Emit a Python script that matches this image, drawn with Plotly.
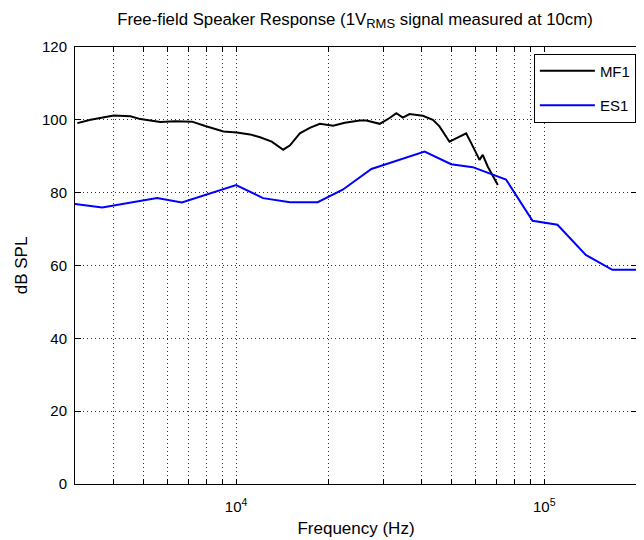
import plotly.graph_objects as go

# MF1 (black) measured response
mf1_freq = [3052, 3370, 4010, 4540, 4890, 5675, 6350, 7195, 7940, 9100, 10050, 11100,
            11960, 13050, 14220, 14960, 16100, 17340, 18700, 20650, 22530, 25190, 26480,
            29250, 31490, 33110, 34760, 36540, 40370, 43510, 45710, 49260, 51160, 55800,
            57940, 61660, 63140, 65540, 70700]
mf1_db = [99.1, 100.0, 101.2, 101.0, 100.2, 99.4, 99.6, 99.5, 98.3, 96.8, 96.5, 96.0,
          95.2, 94.0, 91.8, 93.0, 96.3, 97.8, 98.9, 98.4, 99.2, 99.8, 99.8,
          98.9, 100.5, 101.8, 100.6, 101.6, 101.1, 100.0, 98.2, 94.0, 94.7, 96.3,
          93.6, 89.0, 90.4, 87.2, 82.1]

# ES1 (blue) measured response
es1_freq = [3000, 3677, 5538, 6668, 10000, 12230, 14960, 18400, 22180, 27480, 40900,
            49890, 58610, 68060, 75170, 91630, 110400, 136400, 166300, 200000]
es1_db = [76.9, 75.9, 78.5, 77.3, 82.1, 78.5, 77.4, 77.4, 80.8, 86.5, 91.3,
          87.8, 87.0, 84.9, 83.6, 72.3, 71.2, 62.9, 58.8, 58.8]

x_tickvals = [m * 10 ** e for e in (3, 4, 5) for m in range(1, 10) if 3000 <= m * 10 ** e <= 200000]
x_ticktext = {10000: "10<sup>4</sup>", 100000: "10<sup>5</sup>"}
y_tickvals = [0, 20, 40, 60, 80, 100, 120]

fig = go.Figure()
fig.add_trace(go.Scatter(x=mf1_freq, y=mf1_db, mode="lines", name="MF1", legendgroup="a",
                         line=dict(color="black", width=2)))
fig.add_trace(go.Scatter(x=es1_freq, y=es1_db, mode="lines", name="ES1", legendgroup="b",
                         line=dict(color="#0000ff", width=2)))

# figure sits 8px inside the page (body margin), so it is drawn 8px smaller
W, H = 636, 532
font_family = "Liberation Sans, Arial, sans-serif"
fig.update_layout(
    width=W, height=H,
    margin=dict(l=67, r=7, t=39, b=56, autoexpand=False),
    paper_bgcolor="white", plot_bgcolor="white",
    font=dict(family=font_family, size=14, color="black"),
    title=dict(text="Free-field Speaker Response (1V<sub><span style='font-size:13px'>RMS</span></sub> signal measured at 10cm)",
               x=347 / W, xanchor="center", y=1 - 11 / H, yanchor="middle",
               font=dict(size=16.8)),
    showlegend=True,
    legend=dict(x=0.998, y=0.985, xanchor="right", yanchor="top",
                bordercolor="black", borderwidth=1, bgcolor="white",
                font=dict(size=15), itemwidth=55, traceorder="grouped", tracegroupgap=12),
    xaxis=dict(type="log", range=[3.4771, 5.30103], automargin=False,
               tickvals=x_tickvals,
               ticktext=[x_ticktext.get(v, "") for v in x_tickvals],
               ticks="inside", ticklen=5, tickcolor="black", ticklabelstandoff=9,
               showline=True, linecolor="black", linewidth=1, mirror="ticks",
               showgrid=True, gridcolor="#333", gridwidth=1, griddash="1px,3px",
               zeroline=False,
               title=dict(text="Frequency (Hz)", standoff=8),
               tickfont=dict(size=15)),
    yaxis=dict(range=[0, 120], tickvals=y_tickvals, automargin=False,
               ticks="inside", ticklen=6, tickcolor="black", ticklabelstandoff=4,
               showline=True, linecolor="black", linewidth=1, mirror="ticks",
               showgrid=True, gridcolor="#333", gridwidth=1, griddash="1px,3px",
               zeroline=False,
               title=dict(text="dB SPL", standoff=10),
               tickfont=dict(size=15)),
)

fig.write_html("out.html")
